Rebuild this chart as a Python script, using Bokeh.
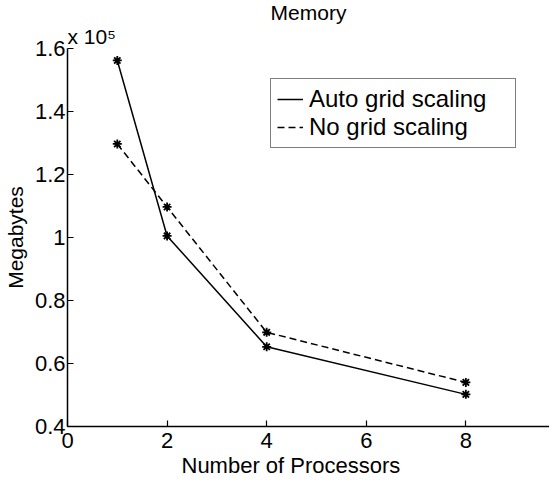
from bokeh.plotting import figure
from bokeh.models import Title, FixedTicker, Legend, LegendItem
from bokeh.embed import file_html
from bokeh.resources import INLINE

# Data (memory in units of 10^5 megabytes)
processors = [1, 2, 4, 8]
auto_grid = [1.562, 1.005, 0.653, 0.502]
no_grid = [1.297, 1.097, 0.699, 0.540]

y_ticks = [0.4, 0.6, 0.8, 1.0, 1.2, 1.4, 1.6]
y_tick_labels = ["0.4", "0.6", "0.8", "1", "1.2", "1.4", "1.6"]
x_ticks = [0, 2, 4, 6, 8]

title_text = "Memory"
exponent_text = "x 10\u2075"
x_label = "Number of Processors"
y_label = "Megabytes"
series_names = ["Auto grid scaling", "No grid scaling"]

FONT = "Liberation Sans"

p = figure(width=549, height=477, x_range=(0, 9.68), y_range=(0.4, 1.6),
           output_backend="svg", toolbar_location=None,
           min_border_left=0, min_border_right=0, min_border_top=0, min_border_bottom=0)
p.outline_line_color = None
p.xgrid.visible = False
p.ygrid.visible = False
p.background_fill_color = "white"
p.border_fill_color = "white"

for ax in (p.xaxis[0], p.yaxis[0]):
    ax.major_tick_in = 6
    ax.major_tick_out = 0
    ax.minor_tick_in = 0
    ax.minor_tick_out = 0
    ax.axis_line_color = "black"
    ax.axis_line_width = 1.5
    ax.major_tick_line_color = "black"
    ax.major_tick_line_width = 1.2
    ax.major_label_text_font = FONT
    ax.major_label_text_font_size = "22px"
    ax.major_label_text_color = "black"
    ax.axis_label_text_font = FONT
    ax.axis_label_text_font_size = "21px"
    ax.axis_label_text_font_style = "normal"
    ax.axis_label_text_color = "black"

p.yaxis[0].ticker = FixedTicker(ticks=y_ticks)
p.yaxis[0].major_label_overrides = {t: l for t, l in zip(y_ticks, y_tick_labels)}
p.yaxis[0].major_label_standoff = 2
p.yaxis[0].axis_label = y_label
p.yaxis[0].axis_label_standoff = 5

p.xaxis[0].ticker = FixedTicker(ticks=x_ticks)
p.xaxis[0].major_label_standoff = 6

r_auto = p.line(processors, auto_grid, line_color="black", line_width=1.5)
p.scatter(processors, auto_grid, marker="asterisk", size=9, line_color="black", line_width=1.8)
r_no = p.line(processors, no_grid, line_color="black", line_width=1.5, line_dash="7 4")
p.scatter(processors, no_grid, marker="asterisk", size=9, line_color="black", line_width=1.8)

legend = Legend(items=[LegendItem(label=series_names[0], renderers=[r_auto]),
                       LegendItem(label=series_names[1], renderers=[r_no])],
                location=(203, 278))
legend.label_text_font = FONT
legend.label_text_font_size = "24px"
legend.label_text_color = "black"
legend.border_line_color = "black"
legend.border_line_width = 1.2
legend.background_fill_alpha = 1
legend.padding = 6
legend.spacing = 0
legend.margin = 0
legend.glyph_width = 26
legend.glyph_height = 24
legend.label_standoff = 6
legend.label_height = 25
legend.label_width = 200
p.add_layout(legend, "center")

# x label placed below (offset to match the original's centring)
xl = Title(text=x_label, align="left", offset=114, text_font=FONT, text_font_size="22px",
           text_font_style="normal", text_color="black", standoff=0)
p.add_layout(xl, "below")

# exponent row and title row above
ex = Title(text=exponent_text, align="left", offset=0, text_font=FONT, text_font_size="21px",
           text_font_style="normal", text_color="black", standoff=2)
p.add_layout(ex, "above")
tt = Title(text=title_text, align="center", text_font=FONT, text_font_size="21px",
           text_font_style="normal", text_color="black", standoff=-4)
p.add_layout(tt, "above")

open("out.html", "w").write(file_html(p, INLINE))
